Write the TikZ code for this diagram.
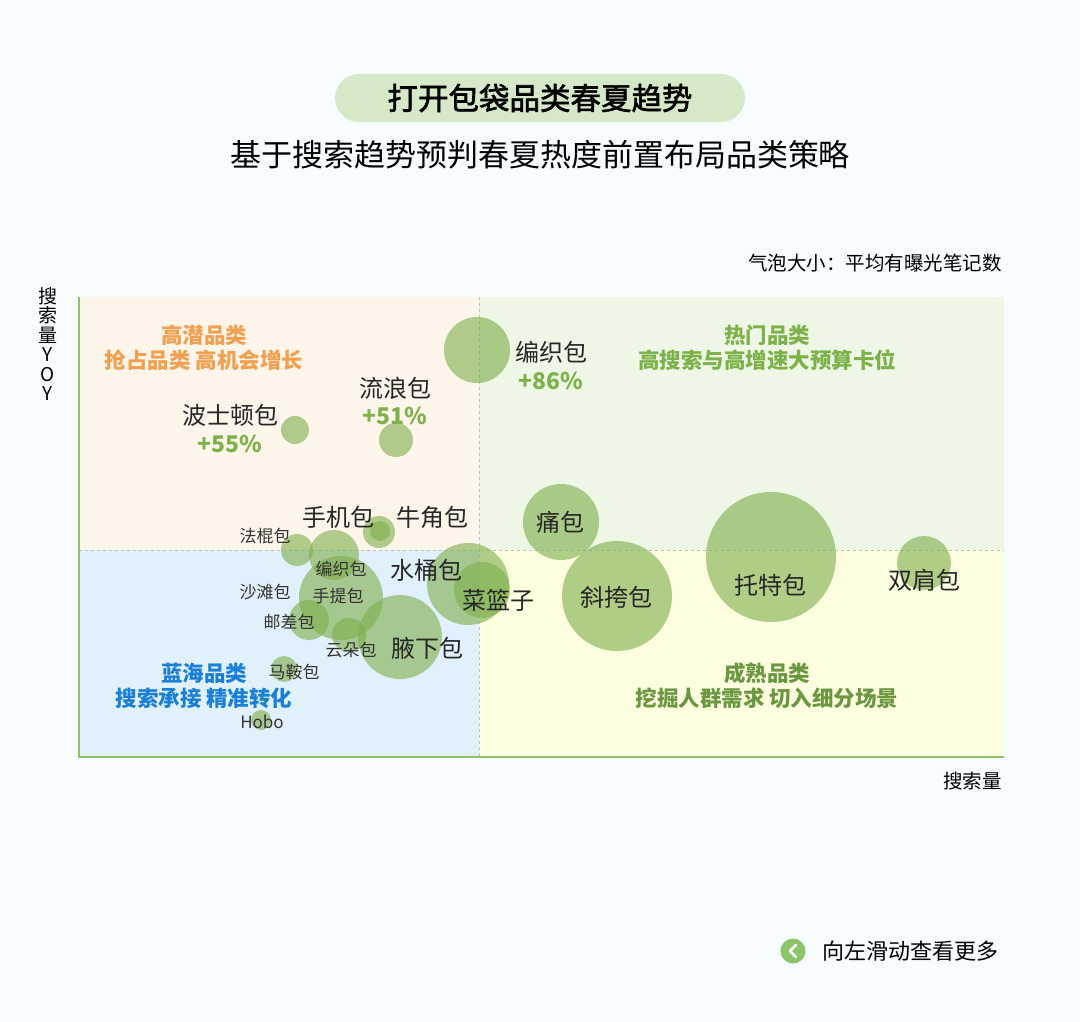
\documentclass[tikz,border=0pt]{standalone}
\usepackage{fontspec}
\setmainfont{Noto Sans CJK SC}
\newfontfamily\cjkb{Noto Sans CJK SC}[FakeBold=2]
\definecolor{bub}{HTML}{80B04E}
\definecolor{gtxt}{HTML}{7DB24A}
\definecolor{otxt}{HTML}{F0A050}
\definecolor{btxt}{HTML}{1A7FD6}
\definecolor{axisc}{HTML}{8FC06A}
\definecolor{qa}{HTML}{FDF5EA}
\definecolor{qb}{HTML}{EEF6E6}
\definecolor{qc}{HTML}{E0F1FC}
\definecolor{qd}{HTML}{FDFDE0}
\definecolor{pill}{HTML}{D5E8C8}
\definecolor{arrc}{HTML}{8AC56A}
\tikzset{
 bubble/.style={fill=bub,fill opacity=0.62,draw=none},
 lab/.style={font=\fontsize{24}{26}\selectfont,text=black!85,inner sep=0},
 slab/.style={font=\fontsize{17}{19}\selectfont,text=black!80,inner sep=0},
 pct/.style={font=\bfseries\fontsize{23}{25}\selectfont,text=gtxt,inner sep=0},
 qlab/.style={font=\bfseries\fontsize{21.5}{25}\selectfont,inner sep=0,align=center},
}
\begin{document}
\begin{tikzpicture}[x=1pt,y=-1pt]
\path[use as bounding box,fill=white] (0,0) rectangle (1080,1022);
\fill[cyan!3] (0,0) rectangle (1080,1022);
% quadrants
\fill[qa] (79,297) rectangle (479,550);
\fill[qb] (479,297) rectangle (1004,550);
\fill[qc] (79,550) rectangle (479,757);
\fill[qd] (479,550) rectangle (1004,757);
\draw[black!25,dashed,thin] (479,297) -- (479,757) (79,550) -- (1004,550);
\draw[axisc,line width=2.5pt] (79,297) -- (79,757) -- (1004,757);
% title
\node[fill=pill,rounded corners=24pt,minimum width=410,minimum height=48,font=\cjkb\fontsize{30.5}{32}\selectfont] (title) at (540,98) {打开包袋品类春夏趋势};
\node[font=\fontsize{31}{33}\selectfont] (sub) at (540,155) {基于搜索趋势预判春夏热度前置布局品类策略};
\node[anchor=east,inner sep=0,font=\fontsize{19.5}{21}\selectfont] (legend) at (1002,263) {气泡大小：平均有曝光笔记数};
\node[anchor=north,align=center,inner sep=0,font=\fontsize{19}{19.5}\selectfont] (ylab) at (48,287) {搜\\索\\量\\Y\\O\\Y};
\node[anchor=east,inner sep=0,font=\fontsize{19.5}{21}\selectfont] (xlab) at (1002,781) {搜索量};
% bubbles
\fill[bubble] (477,350) circle (33);
\fill[bubble] (396,440) circle (17);
\fill[bubble] (295,430) circle (14);
\fill[bubble] (561,522) circle (38);
\fill[bubble] (771,557) circle (65);
\fill[bubble] (924,563) circle (27);
\fill[bubble] (617,596) circle (55);
\fill[bubble] (468,584) circle (41);
\fill[bubble] (482,590) circle (28);
\fill[bubble] (379,532) circle (16);
\fill[bubble] (380,531) circle (10);
\fill[bubble] (297,550) circle (16);
\fill[bubble] (334,555) circle (25);
\fill[bubble] (341,598) circle (42);
\fill[bubble] (309,620) circle (20);
\fill[bubble] (349,635) circle (17);
\fill[bubble] (400,637) circle (42);
\fill[bubble] (284,669) circle (13);
\fill[bubble] (261,720) circle (10);
% labels
\node[lab] (a1) at (551,352) {编织包};
\node[pct] (a2) at (551,381) {+86\%};
\node[lab] (b1) at (395,388) {流浪包};
\node[pct] (b2) at (395,416) {+51\%};
\node[lab] (c1) at (230,415) {波士顿包};
\node[pct] (c2) at (230,444) {+55\%};
\node[lab] (d) at (338,517) {手机包};
\node[lab] (e) at (432,517) {牛角包};
\node[lab] (f) at (560,522) {痛包};
\node[slab] (g) at (265,536) {法棍包};
\node[lab] (h) at (426,570) {水桶包};
\node[slab] (i) at (341,569) {编织包};
\node[slab] (j) at (265,592) {沙滩包};
\node[slab] (k) at (338,596) {手提包};
\node[lab] (l) at (498,600) {菜篮子};
\node[lab] (m) at (616,597) {斜挎包};
\node[lab] (n) at (770,585) {托特包};
\node[lab] (o) at (924,580) {双肩包};
\node[slab] (p) at (289,622) {邮差包};
\node[slab] (q) at (351,650) {云朵包};
\node[lab] (r) at (427,648) {腋下包};
\node[slab] (s) at (294,672) {马鞍包};
\node[slab] (t) at (262,722) {Hobo};
% quadrant labels
\node[qlab,text=otxt] (q1) at (204,348) {高潜品类\\抢占品类 高机会增长};
\node[qlab,text=gtxt] (q2) at (767,348) {热门品类\\高搜索与高增速大预算卡位};
\node[qlab,text=btxt] (q3) at (204,686) {蓝海品类\\搜索承接 精准转化};
\node[qlab,text=gtxt!85!black] (q4) at (767,686) {成熟品类\\挖掘人群需求 切入细分场景};
% footer
\node[circle,fill=arrc,minimum size=25,inner sep=0] (arr) at (793,951) {};
\draw[white,line width=2.5pt,line cap=round,line join=round] ([xshift=3,yshift=-6]arr.center) -- ([xshift=-3]arr.center) -- ([xshift=3,yshift=6]arr.center);
\node[anchor=west,inner sep=0,font=\fontsize{22}{24}\selectfont] (foot) at (822,951) {向左滑动查看更多};
\end{tikzpicture}
\end{document}
